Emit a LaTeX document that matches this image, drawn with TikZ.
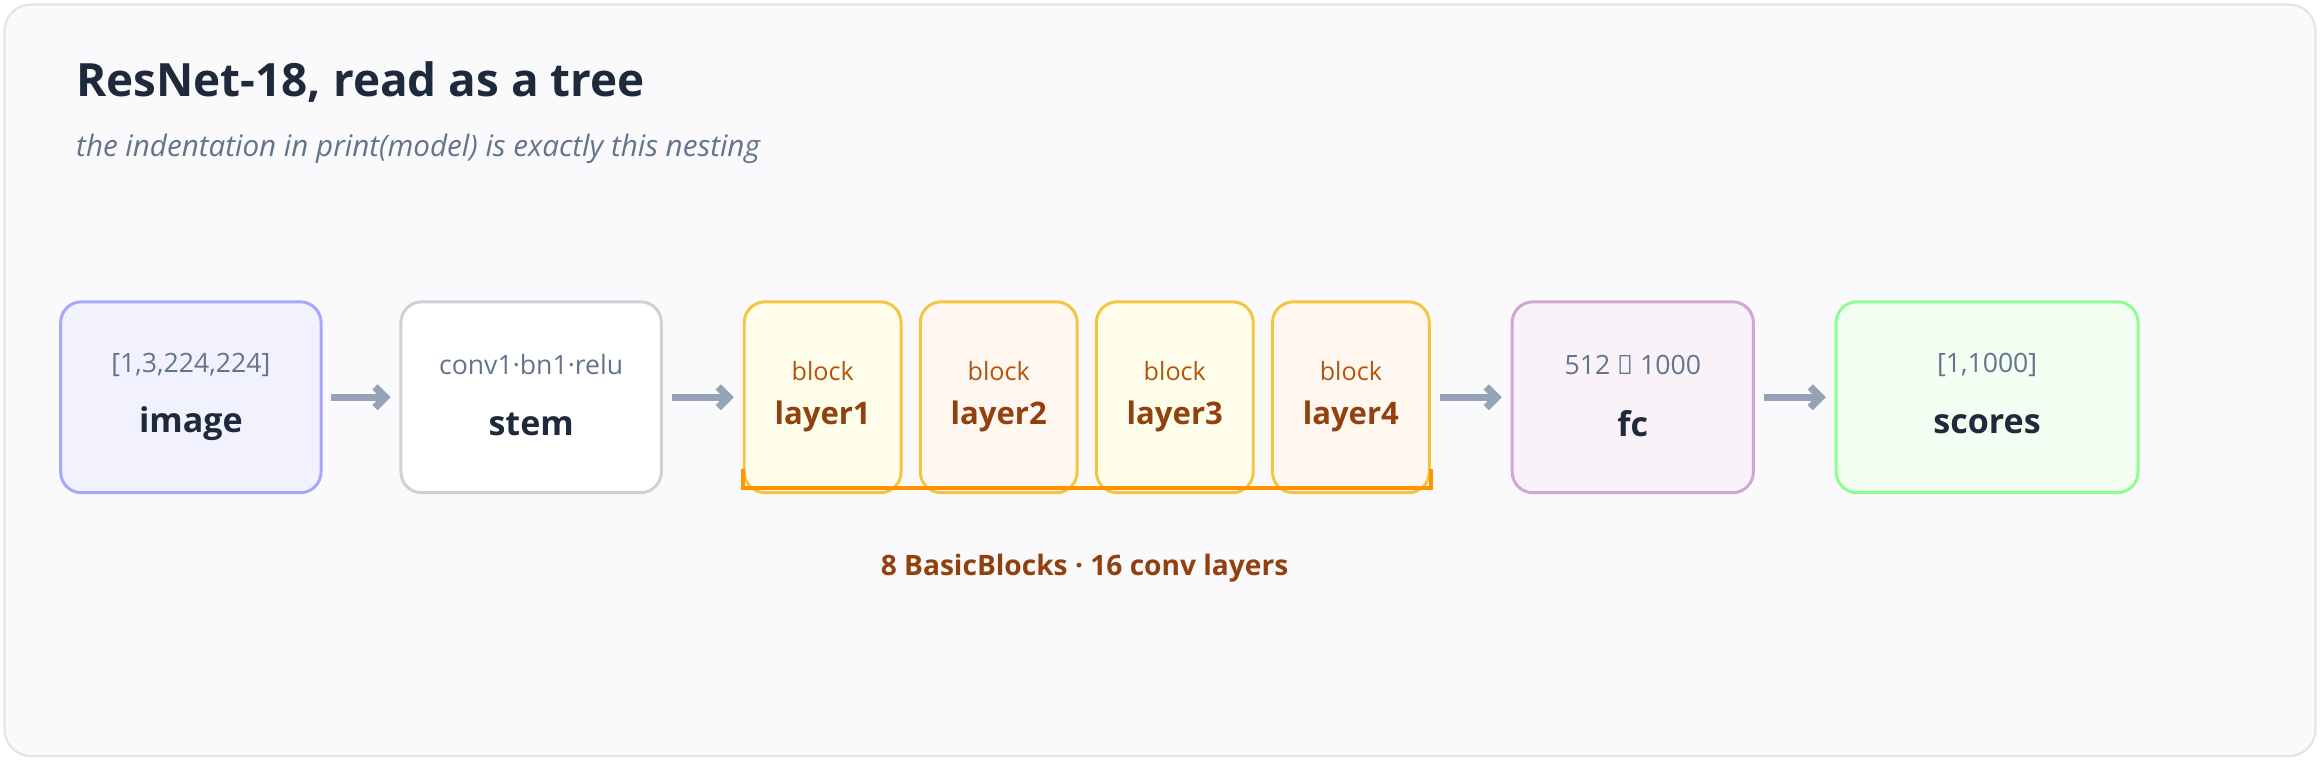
\documentclass[tikz,border=0pt]{standalone}
\usepackage{fontspec}
\setmainfont{Open Sans}
\usetikzlibrary{arrows.meta}
\definecolor{frame}{HTML}{E2E4EA}
\definecolor{paper}{HTML}{FAFAFD}
\definecolor{ink}{HTML}{1E293B}
\definecolor{muted}{HTML}{64748B}
\definecolor{brown}{HTML}{92400E}
\definecolor{amber}{HTML}{B45309}
\definecolor{gold}{HTML}{F5C542}
\definecolor{pipe}{HTML}{94A3B8}
\tikzset{
  box/.style={draw, rounded corners=14pt, line width=2pt, minimum height=129pt, anchor=north west},
  head/.style={font=\bfseries\fontsize{23}{26}\selectfont, text=ink},
  sub/.style={font=\fontsize{18}{21}\selectfont, text=muted},
  flow/.style={-{Straight Barb[length=7pt,width=14pt]}, line width=5pt, pipe, shorten <=6pt, shorten >=6pt}
}
\begin{document}
\begin{tikzpicture}[x=1pt,y=-1pt]
\useasboundingbox (0,0) rectangle (1568,514);
\draw[frame, fill=paper, line width=1.5pt, rounded corners=18pt] (3,3) rectangle (1565,511);
\node[anchor=base west, font=\bfseries\fontsize{31}{36}\selectfont, text=ink] (title) at (48,65) {ResNet-18, read as a tree};
\node[anchor=base west, font=\itshape\fontsize{20}{24}\selectfont, text=muted] (subtitle) at (48,106) {the indentation in print(model) is exactly this nesting};

% boxes
\node[box, fill=blue!5, draw=blue!35, minimum width=176pt] (image) at (40,203) {};
\node[box, fill=white, draw=frame!80!gray, minimum width=176pt] (stem) at (270,203) {};
\node[box, fill=yellow!8, draw=gold, minimum width=106pt] (l1) at (502,203) {};
\node[box, fill=orange!6, draw=gold, minimum width=106pt] (l2) at (621,203) {};
\node[box, fill=yellow!8, draw=gold, minimum width=106pt] (l3) at (740,203) {};
\node[box, fill=orange!6, draw=gold, minimum width=106pt] (l4) at (859,203) {};
\node[box, fill=violet!5, draw=violet!35, minimum width=163pt] (fc) at (1021,203) {};
\node[box, fill=green!5, draw=green!45, minimum width=204pt] (scores) at (1240,203) {};

% labels
\foreach \n/\a/\b in {image/image/{[1,3,224,224]}, stem/stem/{conv1·bn1·relu}, fc/fc/{512 → 1000}, scores/scores/{[1,1000]}}{
  \node[head] at ([yshift=-18pt]\n.center) {\a};
  \node[sub] at ([yshift=22pt]\n.center) {\b};
}
\foreach \n/\a in {l1/layer1, l2/layer2, l3/layer3, l4/layer4}{
  \node[head, text=brown, font=\bfseries\fontsize{21}{24}\selectfont] at ([yshift=-13pt]\n.center) {\a};
  \node[sub, text=amber, font=\fontsize{17}{20}\selectfont] at ([yshift=18pt]\n.center) {block};
}

% arrows
\draw[flow] (image.east) -- (stem.west);
\draw[flow] (stem.east) -- (l1.west);
\draw[flow] (l4.east) -- (fc.west);
\draw[flow] (fc.east) -- (scores.west);

% bracket
\draw[orange!85!yellow, line width=3pt] ([yshift=17pt]l1.south west) -- ++(0,13) -| ([yshift=17pt]l4.south east);
\node[font=\bfseries\fontsize{19}{22}\selectfont, text=brown] (count) at (733,384) {8 BasicBlocks · 16 conv layers};
\end{tikzpicture}
\end{document}
